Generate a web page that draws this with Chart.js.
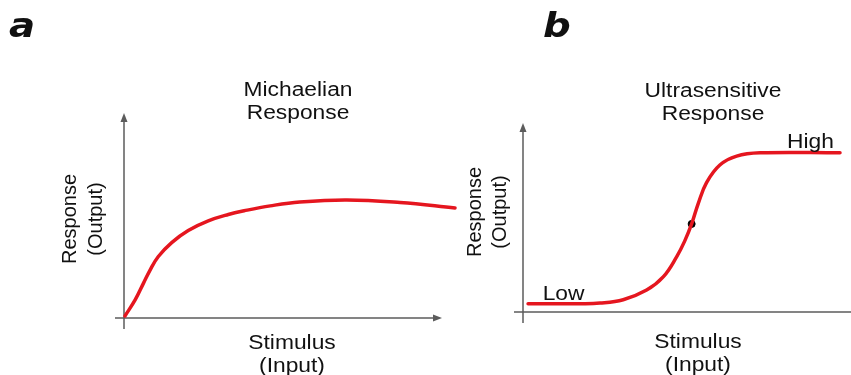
<!DOCTYPE html>
<html>
<head>
<meta charset="utf-8">
<script src="https://cdn.jsdelivr.net/npm/chart.js@4.4.1/dist/chart.umd.min.js"></script>
<style>
  body { margin: 0; background: #fff; width: 851px; height: 375px; position: relative; overflow: hidden; }
  canvas { position: absolute; top: 0; }
</style>
</head>
<body>
<canvas id="panelA" width="470" height="375" style="left:0"></canvas>
<canvas id="panelB" width="396" height="375" style="left:455px"></canvas>
<script>
// data (arbitrary units, axes run 0..10)
const michaelX = [0.03, 0.35, 0.61, 0.82, 1.08, 1.5, 2.02, 2.65, 3.28, 3.78, 4.6, 5.53, 7.01, 8.68, 10.41];
const michaelY = [0.1, 0.88, 1.69, 2.34, 3.0, 3.68, 4.27, 4.74, 5.05, 5.23, 5.47, 5.66, 5.76, 5.63, 5.37];

const ultraX = [0.16, 1.8, 2.43, 3.16, 3.9, 4.43, 4.85, 5.1, 5.32, 5.53, 5.79, 6.21, 6.74, 7.48, 10];
const ultraY = [0.44, 0.44, 0.47, 0.65, 1.16, 1.87, 2.93, 3.75, 4.66, 5.75, 6.85, 7.78, 8.25, 8.42, 8.42];

// half-maximum point marked on the ultrasensitive curve
const midX = [5.32];
const midY = [4.66];

// Low / High labels, anchored in data units
const levelText = ['Low', 'High'];
const levelX = [1.28, 9.07];
const levelY = [0.63, 8.68];

const RED = '#e5161f';
const AXIS = '#5c5c5c';
const INK = '#111';
const FONT = "'Liberation Sans', Arial, sans-serif";
const STRETCH = 1.14; // the text in the figure is a bit wide

function punten(xs, ys) {
  return xs.map((x, i) => ({ x: x, y: ys[i] }));
}

function tulisLebar(ctx, txt, x, y, align) {
  ctx.save();
  ctx.translate(x, y);
  ctx.scale(STRETCH, 1);
  ctx.textAlign = align || 'center';
  ctx.fillText(txt, 0, 0);
  ctx.restore();
}

function panah(ctx, x, y, dir) {
  ctx.beginPath();
  if (dir === 'up') {
    ctx.moveTo(x, y);
    ctx.lineTo(x - 3.5, y + 9);
    ctx.lineTo(x + 3.5, y + 9);
  } else {
    ctx.moveTo(x, y);
    ctx.lineTo(x - 9, y - 3.5);
    ctx.lineTo(x - 9, y + 3.5);
  }
  ctx.closePath();
  ctx.fill();
}

const panelDeco = {
  id: 'panelDeco',
  beforeDatasetsDraw(chart, args, o) {
    const ctx = chart.ctx;
    const xs = chart.scales.x, ys = chart.scales.y;
    const x0 = xs.getPixelForValue(0), y0 = ys.getPixelForValue(0);
    const top = ys.getPixelForValue(10);
    const right = o.xArrow ? xs.getPixelForValue(10) : chart.width;
    ctx.save();
    ctx.strokeStyle = AXIS;
    ctx.fillStyle = AXIS;
    ctx.lineWidth = 1.5;
    ctx.beginPath();
    ctx.moveTo(x0, y0 + 11);
    ctx.lineTo(x0, top + 4);
    ctx.moveTo(x0 - 9, y0);
    ctx.lineTo(right - (o.xArrow ? 4 : 0), y0);
    ctx.stroke();
    panah(ctx, x0, top, 'up');
    if (o.xArrow) panah(ctx, right, y0, 'right');
    ctx.restore();
  },
  afterDatasetsDraw(chart, args, o) {
    const ctx = chart.ctx;
    ctx.save();
    ctx.fillStyle = INK;
    ctx.textBaseline = 'alphabetic';

    // panel letter
    ctx.font = 'bold italic 34px "DejaVu Sans"';
    tulisLebar(ctx, o.letter, o.letterPos[0], o.letterPos[1], 'left');

    ctx.font = '20px ' + FONT;
    o.title.forEach((t, i) => tulisLebar(ctx, t, o.titlePos[0], o.titlePos[1] + i * 23));
    o.xTitle.forEach((t, i) => tulisLebar(ctx, t, o.xTitlePos[0], o.xTitlePos[1] + i * 23));

    // rotated y title
    o.yTitle.forEach((t, i) => {
      ctx.save();
      ctx.translate(o.yTitleCols[i], o.yTitleMid);
      ctx.rotate(-Math.PI / 2);
      ctx.textAlign = 'center';
      ctx.textBaseline = 'middle';
      ctx.fillText(t, 0, 0);
      ctx.restore();
    });

    (o.levels || []).forEach((t, i) => {
      tulisLebar(ctx, t, chart.scales.x.getPixelForValue(levelX[i]),
        chart.scales.y.getPixelForValue(levelY[i]));
    });
    ctx.restore();
  }
};

function buatPanel(id, datasets, padding, deco) {
  return new Chart(document.getElementById(id), {
    type: 'line',
    data: { datasets: datasets },
    options: {
      responsive: false,
      animation: false,
      devicePixelRatio: 1,
      layout: { padding: padding },
      scales: {
        x: { type: 'linear', min: 0, max: 10, display: false },
        y: { type: 'linear', min: 0, max: 10, display: false }
      },
      plugins: {
        legend: { display: false },
        tooltip: { enabled: false },
        panelDeco: deco
      }
    },
    plugins: [panelDeco]
  });
}

const kurva = (xs, ys) => ({
  data: punten(xs, ys),
  borderColor: RED,
  borderWidth: 3.5,
  borderCapStyle: 'round',
  pointRadius: 0,
  fill: false,
  tension: 0.4,
  clip: false
});

buatPanel('panelA', [kurva(michaelX, michaelY)],
  { left: 124, right: 28, top: 113, bottom: 57 },
  {
    letter: 'a', letterPos: [9, 37], xArrow: true,
    title: ['Michaelian', 'Response'], titlePos: [298, 96],
    xTitle: ['Stimulus', '(Input)'], xTitlePos: [292, 349],
    yTitle: ['Response', '(Output)'], yTitleCols: [70, 96], yTitleMid: 219
  });

buatPanel('panelB', [
  kurva(ultraX, ultraY),
  {
    data: punten(midX, midY),
    showLine: false,
    pointRadius: 3.5,
    pointBackgroundColor: '#000',
    pointBorderColor: '#000',
    clip: false
  }
], { left: 68, right: 11, top: 123, bottom: 63 },
  {
    letter: 'b', letterPos: [88, 37], xArrow: false,
    title: ['Ultrasensitive', 'Response'], titlePos: [258, 97],
    xTitle: ['Stimulus', '(Input)'], xTitlePos: [243, 348],
    yTitle: ['Response', '(Output)'], yTitleCols: [20, 45], yTitleMid: 212,
    levels: levelText
  });
</script>
</body>
</html>
